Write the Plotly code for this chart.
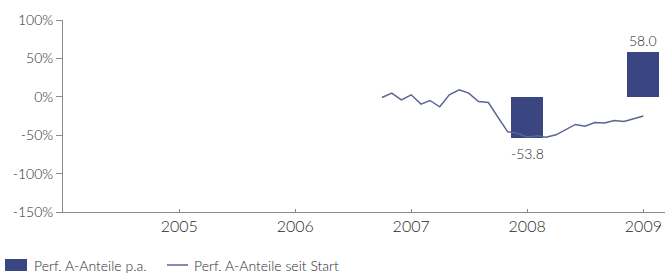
import plotly.graph_objects as go

# Data
bar_years = ["2008-01-01", "2009-01-01"]
bar_values = [-53.8, 58.0]

line_dates = [
    "2006-10-01", "2006-11-01", "2006-12-01", "2007-01-01", "2007-02-01", "2007-03-01",
    "2007-04-01", "2007-05-01", "2007-06-01", "2007-07-01", "2007-08-01", "2007-09-01",
    "2007-10-01", "2007-11-01", "2007-12-01", "2008-01-01", "2008-02-01", "2008-03-01",
    "2008-04-01", "2008-05-01", "2008-06-01", "2008-07-01", "2008-08-01", "2008-09-01",
    "2008-10-01", "2008-11-01", "2008-12-01", "2009-01-01",
]
line_values = [
    -0.9, 4.8, -3.9, 2.6, -9.5, -4.8,
    -13.0, 2.6, 9.1, 4.8, -6.1, -7.4,
    -26.4, -45.6, -47.3, -52.5, -50.8, -52.5,
    -49.5, -43.0, -36.0, -38.2, -33.5, -34.2,
    -30.9, -32.2, -29.0, -25.1,
]

x_tick_vals = ["2005-01-01", "2006-01-01", "2007-01-01", "2008-01-01", "2009-01-01"]
x_tick_text = ["2005", "2006", "2007", "2008", "2009"]
y_tick_vals = [-150, -100, -50, 0, 50, 100]
y_tick_text = ["-150%", "-100%", "-50%", "0%", "50%", "100%"]

bar_name = "Perf. A-Anteile p.a."
line_name = "Perf. A-Anteile seit Start"

BAR_COLOR = "#3a4682"
LINE_COLOR = "#5b6594"
TEXT_COLOR = "#2a2a2a"
AXIS_COLOR = "#8a8a8a"
FONT = "Lato"
W = 300

fig = go.Figure()
fig.add_trace(go.Bar(
    x=bar_years, y=bar_values, name=bar_name,
    marker=dict(color=BAR_COLOR, line=dict(width=0)),
    width=8.71e9,
    showlegend=False,
))
fig.add_trace(go.Scatter(
    x=line_dates, y=line_values, mode="lines", name=line_name,
    line=dict(color=LINE_COLOR, width=1.5),
    showlegend=False,
))

# bar value labels
for xv, yv in zip(bar_years, bar_values):
    fig.add_annotation(
        x=xv, y=yv, text=f"{yv:.1f}", showarrow=False,
        yanchor="bottom" if yv >= 0 else "top",
        yshift=1 if yv >= 0 else -5,
        font=dict(family=FONT, size=14, color=TEXT_COLOR, weight=W),
    )

# manual legend
fig.add_shape(type="rect", xref="paper", yref="paper",
              x0=(5 - 63) / 602, x1=(27 - 63) / 602, y0=-(259 - 212) / 192, y1=-(271 - 212) / 192,
              fillcolor=BAR_COLOR, line=dict(width=0))
fig.add_annotation(xref="paper", yref="paper", x=(32 - 63) / 602, y=-(265 - 212) / 192,
                   text=bar_name, showarrow=False, xanchor="left", yanchor="middle",
                   font=dict(family=FONT, size=14, color=TEXT_COLOR, weight=W))
fig.add_shape(type="line", xref="paper", yref="paper",
              x0=(167 - 63) / 602, x1=(188 - 63) / 602, y0=-(265 - 212) / 192, y1=-(265 - 212) / 192,
              line=dict(color=LINE_COLOR, width=1.5))
fig.add_annotation(xref="paper", yref="paper", x=(192 - 63) / 602, y=-(265 - 212) / 192,
                   text=line_name, showarrow=False, xanchor="left", yanchor="middle",
                   font=dict(family=FONT, size=14, color=TEXT_COLOR, weight=W))

fig.update_layout(
    width=669, height=273,
    margin=dict(l=63, r=4, t=20, b=61),
    paper_bgcolor="white", plot_bgcolor="white",
    font=dict(family=FONT, size=13, color=TEXT_COLOR, weight=W),
    bargap=0,
)
fig.update_xaxes(
    type="date", range=["2004-01-01", "2009-03-10"],
    tickvals=x_tick_vals, ticktext=x_tick_text,
    showline=True, linecolor=AXIS_COLOR, linewidth=1,
    ticks="inside", ticklen=3, tickcolor=AXIS_COLOR,
    showgrid=False, zeroline=False,
    tickfont=dict(family=FONT, size=16, color=TEXT_COLOR, weight=W),
)
fig.update_yaxes(
    range=[-150, 100],
    tickvals=y_tick_vals, ticktext=y_tick_text,
    showline=True, linecolor=AXIS_COLOR, linewidth=1,
    ticks="outside", ticklen=6, tickcolor=AXIS_COLOR,
    showgrid=False, zeroline=False,
    tickfont=dict(family=FONT, size=14, color=TEXT_COLOR, weight=W),
)

fig.write_html(
    "out.html",
    config={"displayModeBar": False},
    post_script="document.body.style.margin='0';document.body.style.overflow='hidden';",
)
